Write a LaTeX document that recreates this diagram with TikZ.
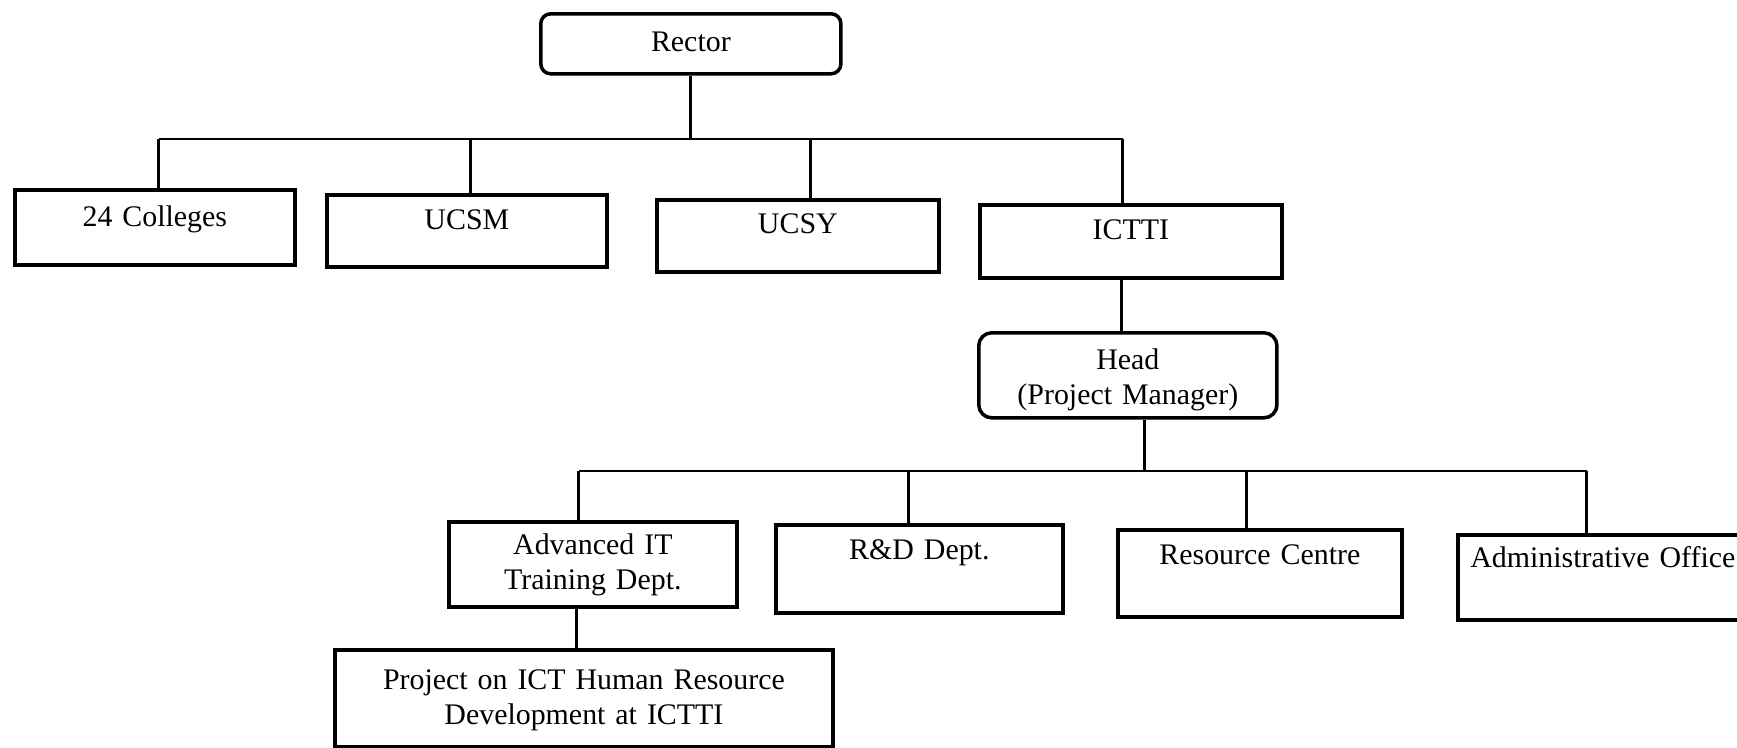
\documentclass[tikz,border=0pt]{standalone}
\usepackage{fontspec}
\setmainfont{Liberation Serif}

\begin{document}
\begin{tikzpicture}[x=0.01cm, y=-0.01cm,
		caixa/.style={draw, line width=1pt, inner sep=0pt, align=center, anchor=north west, font=\fontsize{8.5}{10}\selectfont},
		ligacao/.style={line width=0.8pt}] %Escala: 1 unidade = 1 pixel da figura
					\useasboundingbox (0,0) rectangle (1737,747); %Tamanho da figura
					\clip (0,0) rectangle (1737,747); %Corta o que passa da borda
						%Primeiro nivel
					\node[caixa, rounded corners=0.1cm, text width=3cm, text height=0.38cm, text depth=0.22cm] (rector) at (539,12) {Rector}; %Reitor
						%Segundo nivel
					\node[caixa, text width=2.8cm, text height=0.37cm, text depth=0.38cm] (colleges) at (13,188) {24 Colleges};
					\node[caixa, text width=2.8cm, text height=0.35cm, text depth=0.37cm] (ucsm) at (325,193) {UCSM};
					\node[caixa, text width=2.82cm, text height=0.34cm, text depth=0.38cm] (ucsy) at (655,198) {UCSY};
					\node[caixa, text width=3.02cm, text height=0.35cm, text depth=0.38cm] (ictti) at (978,203) {ICTTI};
					\node[caixa, rounded corners=0.13cm, text width=2.98cm, text height=0.37cm, text depth=0.48cm] (head) at (977,331) {Head\\(Project Manager)}; %Chefe
						%Terceiro nivel
					\node[caixa, text width=2.88cm, text height=0.33cm, text depth=0.52cm] (advit) at (447,520) {Advanced IT\\Training Dept.};
					\node[caixa, text width=2.87cm, text height=0.35cm, text depth=0.53cm] (rnd) at (774,523) {R\&D Dept.};
					\node[caixa, text width=2.84cm, text height=0.35cm, text depth=0.52cm] (resource) at (1116,528) {Resource Centre};
					\node[caixa, text width=2.9cm, text height=0.33cm, text depth=0.52cm] (admin) at (1456,533) {Administrative Office};
					\node[caixa, text width=4.98cm, text height=0.40cm, text depth=0.57cm] (project) at (333,648) {Project on ICT Human Resource\\Development at ICTTI}; %Projeto
						%Ligacoes
					\coordinate (barra1) at (0,139); %Barra de cima
					\coordinate (barra2) at (0,471); %Barra de baixo
					\draw[ligacao] (rector.south) -- (rector.south |- barra1);
					\draw[ligacao] ([xshift=0.04cm]colleges.north |- barra1) -- ([xshift=-0.08cm]ictti.north |- barra1);
					\foreach \n/\d in {colleges/0.04,ucsm/0.04,ucsy/0.13,ictti/-0.08}
						\draw[ligacao] ([xshift=\d cm]\n.north) -- ([xshift=\d cm]\n.north |- barra1);
					\draw[ligacao] ([xshift=-0.09cm]ictti.south) -- ([xshift=-0.09cm]ictti.south |- head.north); %ICTTI ao chefe
					\draw[ligacao] ([xshift=0.17cm]head.south) -- ([xshift=0.17cm]head.south |- barra2);
					\draw[ligacao] ([xshift=-0.14cm]advit.north |- barra2) -- ([xshift=-0.16cm]admin.north |- barra2);
					\foreach \n/\d in {advit/-0.14,rnd/-0.11,resource/-0.13,admin/-0.16}
						\draw[ligacao] ([xshift=\d cm]\n.north) -- ([xshift=\d cm]\n.north |- barra2);
					\draw[ligacao] ([xshift=-0.16cm]advit.south) -- ([xshift=-0.16cm]advit.south |- project.north); %Departamento ao projeto
				\end{tikzpicture}
\end{document}
